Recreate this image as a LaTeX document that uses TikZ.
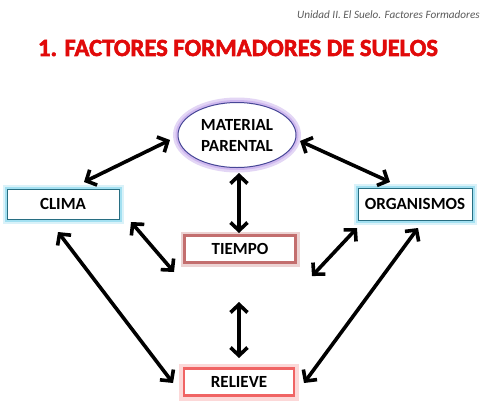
\documentclass[tikz,border=0pt]{standalone}
\usepackage{fontspec}
\setmainfont{Carlito}
\newfontfamily\titlefont{Carlito}[BoldFeatures={FakeBold=2.2}]
\usetikzlibrary{arrows.meta,shapes.geometric}
\definecolor{titlered}{RGB}{225,10,10}
\definecolor{hdrgray}{RGB}{90,90,90}
\definecolor{cyanglow}{RGB}{150,220,240}
\definecolor{tealline}{RGB}{40,110,130}
\definecolor{tiempored}{RGB}{195,110,110}
\definecolor{relievered}{RGB}{240,100,100}
\definecolor{relieveglow}{RGB}{250,170,170}
\definecolor{ellline}{RGB}{70,70,150}
\definecolor{ellglow}{RGB}{195,165,235}
\tikzset{
  boxtext/.style={font=\fontsize{17}{19}\selectfont\bfseries, text=black, fill=white, inner sep=0pt},
  cyanbox/.style={boxtext, rectangle,
    preaction={draw=cyanglow, line width=9pt, opacity=0.35},
    preaction={draw=cyanglow, line width=5pt, opacity=0.8},
    draw=tealline, line width=0.9pt},
  tiempobox/.style={boxtext, rectangle,
    preaction={draw=tiempored, line width=8pt, opacity=0.3},
    draw=tiempored, line width=3.5pt},
  relievebox/.style={boxtext, rectangle,
    preaction={draw=relieveglow, line width=10pt, opacity=0.45},
    draw=relievered, line width=2.5pt},
  ellnode/.style={boxtext, ellipse,
    preaction={draw=ellglow, line width=10pt, opacity=0.45},
    preaction={draw=ellglow, line width=5pt, opacity=0.6},
    draw=ellline, line width=1pt},
  dblarrow/.style={line width=3.6pt, {Straight Barb[length=8pt,width=17pt]}-{Straight Barb[length=8pt,width=17pt]}, black}
}
\begin{document}
\begin{tikzpicture}[x=1pt,y=-1pt]
\useasboundingbox (0,0) rectangle (489,410);
\fill[white] (0,0) rectangle (489,410);
\node[anchor=east, font=\fontsize{11.2}{13}\selectfont\itshape, text=hdrgray, inner sep=0pt] (hdr) at (480,15) {Unidad II. El Suelo. Factores Formadores};
\node[font=\fontsize{29}{32}\selectfont\titlefont\bfseries, text=titlered, inner sep=0pt] (title) at (238,48) {\resizebox{400pt}{!}{1. FACTORES FORMADORES DE SUELOS}};

\node[ellnode, minimum width=118pt, minimum height=65pt, align=center] (mat) at (237,135) {MATERIAL\\[2pt]PARENTAL};
\node[cyanbox, minimum width=112pt, minimum height=30pt] (clima) at (63,204) {CLIMA};
\node[cyanbox, minimum width=114pt, minimum height=32pt] (org) at (415,204) {ORGANISMOS};
\node[tiempobox, minimum width=111pt, minimum height=27pt] (tiempo) at (240,249) {TIEMPO};
\node[relievebox, minimum width=110pt, minimum height=27pt] (relieve) at (239,382) {RELIEVE};

\coordinate (a1s) at (84,182);  \coordinate (a1e) at (170,140);
\coordinate (a2s) at (300,141); \coordinate (a2e) at (390,182);
\coordinate (a3s) at (239,173); \coordinate (a3e) at (239,233);
\coordinate (a4s) at (58,232);  \coordinate (a4e) at (173,383);
\coordinate (a5s) at (131,222); \coordinate (a5e) at (174,272);
\coordinate (a6s) at (357,228); \coordinate (a6e) at (312,276);
\coordinate (a7s) at (418,228); \coordinate (a7e) at (304,383);
\coordinate (a8s) at (239,302); \coordinate (a8e) at (239,358);

\foreach \i in {1,...,8} {\draw[dblarrow] (a\i s) -- (a\i e);}
\end{tikzpicture}
\end{document}
